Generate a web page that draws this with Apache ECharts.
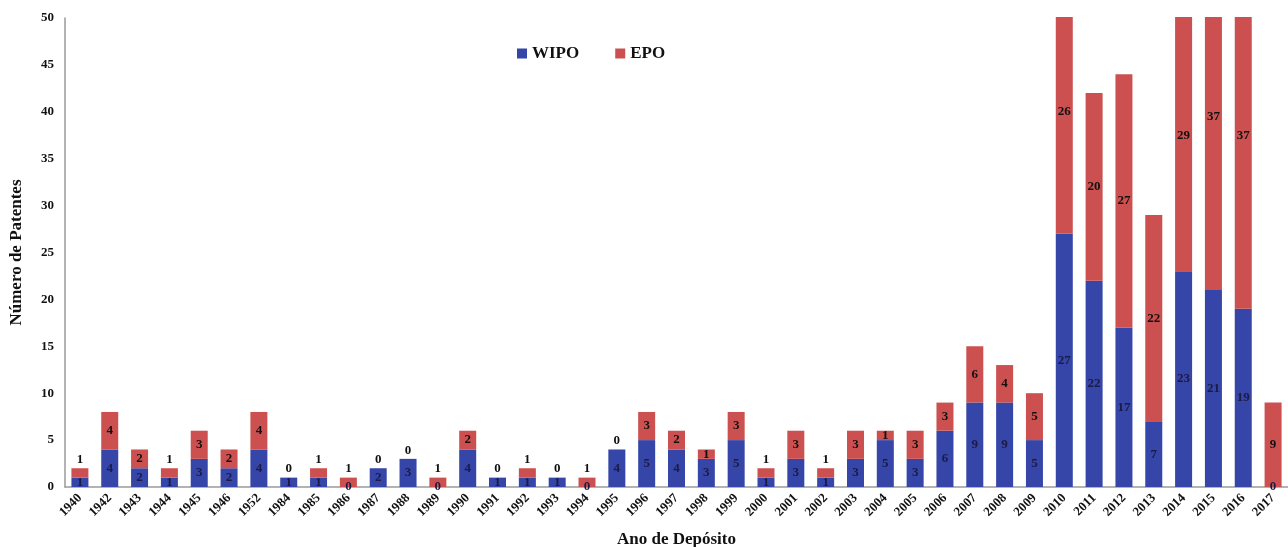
<!DOCTYPE html>
<html>
<head>
<meta charset="utf-8">
<script src="https://cdn.jsdelivr.net/npm/echarts@6/dist/echarts.min.js"></script>
<style>
html,body{margin:0;padding:0;background:#fff;}
#chart{width:1288px;height:547px;}
</style>
</head>
<body>
<div id="chart"></div>
<script>
const categories = ['1940','1942','1943','1944','1945','1946','1952','1984','1985','1986','1987','1988','1989','1990','1991','1992','1993','1994','1995','1996','1997','1998','1999','2000','2001','2002','2003','2004','2005','2006','2007','2008','2009','2010','2011','2012','2013','2014','2015','2016','2017'];
const wipo = [1,4,2,1,3,2,4,1,1,0,2,3,0,4,1,1,1,0,4,5,4,3,5,1,3,1,3,5,3,6,9,9,5,27,22,17,7,23,21,19,0];
const epo  = [1,4,2,1,3,2,4,0,1,1,0,0,1,2,0,1,0,1,0,3,2,1,3,1,3,1,3,1,3,3,6,4,5,26,20,27,22,29,37,37,9];
const yMin = 0, yMax = 50, yInterval = 5;

const FONT = '"Liberation Serif", "Times New Roman", serif';
const BLUE = '#3545A8';
const RED = '#CC5050';

const epoData = epo.map((v, i) => {
  const small = v === 0 || (v + wipo[i]) <= 2;
  return small ? { value: v, label: { position: 'top', distance: 2 } } : v;
});

const chart = echarts.init(document.getElementById('chart'), null, { renderer: 'canvas' });
chart.setOption({
  animation: false,
  backgroundColor: '#ffffff',
  textStyle: { fontFamily: FONT },
  grid: { left: 65, right: 0, top: 18, bottom: 60, containLabel: false, outerBoundsMode: 'none' },
  legend: {
    top: 40, left: 512,
    itemWidth: 10, itemHeight: 10, itemGap: 36,
    icon: 'rect',
    textStyle: { fontFamily: FONT, fontWeight: 'bold', fontSize: 17, color: '#111' },
    data: ['WIPO', 'EPO']
  },
  xAxis: {
    type: 'category',
    data: categories,
    name: 'Ano de Depósito',
    nameLocation: 'middle',
    nameGap: 44,
    nameTextStyle: { fontFamily: FONT, fontWeight: 'bold', fontSize: 17, color: '#111' },
    axisLine: { lineStyle: { color: '#9a9a9a', width: 1.5 } },
    axisTick: { show: false },
    axisLabel: { rotate: 45, interval: 0, margin: 9, fontFamily: FONT, fontWeight: 'bold', fontSize: 13, color: '#111' }
  },
  yAxis: {
    type: 'value',
    z: 20,
    min: yMin, max: yMax, interval: yInterval,
    name: 'Número de Patentes',
    nameLocation: 'middle',
    nameGap: 40,
    nameTextStyle: { fontFamily: FONT, fontWeight: 'bold', fontSize: 17, color: '#111' },
    axisLine: { show: true, lineStyle: { color: '#9a9a9a', width: 1.5 } },
    axisTick: { show: false },
    splitLine: { show: false },
    axisLabel: { margin: 11, fontFamily: FONT, fontWeight: 'bold', fontSize: 13, color: '#111' }
  },
  graphic: [{
    type: 'rect', left: 67, top: 0, z: 10,
    shape: { width: 1230, height: 17 },
    style: { fill: '#ffffff' }
  }],
  series: [
    {
      name: 'WIPO', type: 'bar', stack: 'total', barWidth: '57%', clip: false,
      itemStyle: { color: BLUE },
      label: { show: true, position: 'inside', fontFamily: FONT, fontWeight: 'bold', fontSize: 13, color: '#1b1b45' },
      data: wipo
    },
    {
      name: 'EPO', type: 'bar', stack: 'total', barWidth: '57%', clip: false,
      itemStyle: { color: RED },
      label: { show: true, position: 'inside', fontFamily: FONT, fontWeight: 'bold', fontSize: 13, color: '#111' },
      data: epoData
    }
  ]
});
</script>
</body>
</html>
